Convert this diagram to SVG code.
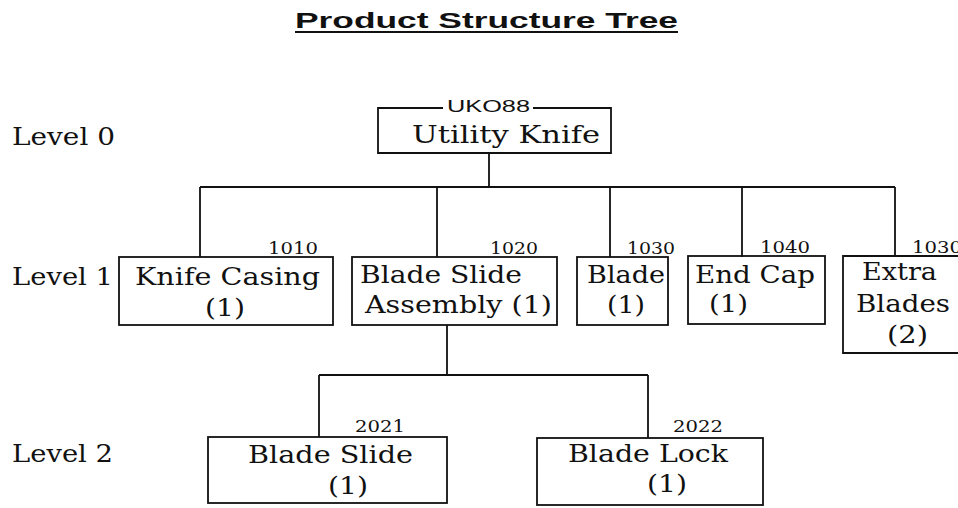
<svg xmlns="http://www.w3.org/2000/svg" width="958" height="508" viewBox="0 0 958 508">
<style>
.bx{fill:none;stroke:#111;stroke-width:1.8}
.ln{fill:none;stroke:#111;stroke-width:1.8}
.t{font-family:"DejaVu Serif","Liberation Serif",serif;font-size:25px;fill:#111}
.n{font-family:"DejaVu Serif","Liberation Serif",serif;font-size:17px;fill:#111}
.s{font-family:"Liberation Sans",Arial,sans-serif;fill:#111}
</style>
<rect width="958" height="508" fill="#fff"/>
<g id="title">
<text class="s" x="295" y="28" font-size="22" font-weight="bold" textLength="383" lengthAdjust="spacingAndGlyphs">Product Structure Tree</text>
<line x1="295" y1="32" x2="678" y2="32" stroke="#111" stroke-width="2"/>
</g>
<g id="levels">
<text class="t" x="12" y="145" textLength="103" lengthAdjust="spacingAndGlyphs">Level 0</text>
<text class="t" x="12" y="285" textLength="101" lengthAdjust="spacingAndGlyphs">Level 1</text>
<text class="t" x="12" y="462" textLength="101" lengthAdjust="spacingAndGlyphs">Level 2</text>
</g>
<g id="connectors">
<path class="ln" d="M489,153 V187 M200,187 H895 M200,187 V257 M437,187 V257 M610,187 V257 M742,187 V257 M895,187 V257"/>
<path class="ln" d="M447,325 V375 M319,375 H648 M319,375 V437 M648,375 V438"/>
</g>
<g id="node-uk088">
<path class="bx" d="M443,108 H378 V153 H611 V108 H533"/>
<text class="s" x="447" y="112" font-size="16" textLength="83" lengthAdjust="spacingAndGlyphs">UKO88</text>
<text class="t" x="412" y="143" textLength="188" lengthAdjust="spacingAndGlyphs">Utility Knife</text>
</g>
<g id="node-1010">
<rect class="bx" x="119" y="257" width="214" height="68"/>
<text class="n" x="268" y="254" textLength="50" lengthAdjust="spacingAndGlyphs">1010</text>
<text class="t" x="135" y="285" textLength="185" lengthAdjust="spacingAndGlyphs">Knife Casing</text>
<text class="t" x="205" y="316" textLength="40" lengthAdjust="spacingAndGlyphs">(1)</text>
</g>
<g id="node-1020">
<rect class="bx" x="352" y="257" width="205" height="68"/>
<text class="n" x="490" y="254" textLength="48" lengthAdjust="spacingAndGlyphs">1020</text>
<text class="t" x="360" y="283" textLength="162" lengthAdjust="spacingAndGlyphs">Blade Slide</text>
<text class="t" x="365" y="313" textLength="187" lengthAdjust="spacingAndGlyphs">Assembly (1)</text>
</g>
<g id="node-1030">
<rect class="bx" x="577" y="257" width="91" height="68"/>
<text class="n" x="627" y="254" textLength="48" lengthAdjust="spacingAndGlyphs">1030</text>
<text class="t" x="587" y="283" textLength="78" lengthAdjust="spacingAndGlyphs">Blade</text>
<text class="t" x="607" y="313" textLength="38" lengthAdjust="spacingAndGlyphs">(1)</text>
</g>
<g id="node-1040">
<rect class="bx" x="688" y="256" width="137" height="68"/>
<text class="n" x="760" y="253" textLength="50" lengthAdjust="spacingAndGlyphs">1040</text>
<text class="t" x="695" y="283" textLength="120" lengthAdjust="spacingAndGlyphs">End Cap</text>
<text class="t" x="709" y="312" textLength="39" lengthAdjust="spacingAndGlyphs">(1)</text>
</g>
<g id="node-1030-extra">
<path class="bx" d="M960,256 H843 V353 H960"/>
<text class="n" x="912" y="253" textLength="50" lengthAdjust="spacingAndGlyphs">1030</text>
<text class="t" x="862" y="280" textLength="75" lengthAdjust="spacingAndGlyphs">Extra</text>
<text class="t" x="856" y="312" textLength="94" lengthAdjust="spacingAndGlyphs">Blades</text>
<text class="t" x="887" y="343" textLength="41" lengthAdjust="spacingAndGlyphs">(2)</text>
</g>
<g id="node-2021">
<rect class="bx" x="208" y="437" width="239" height="66"/>
<text class="n" x="355" y="432" textLength="50" lengthAdjust="spacingAndGlyphs">2021</text>
<text class="t" x="248" y="463" textLength="165" lengthAdjust="spacingAndGlyphs">Blade Slide</text>
<text class="t" x="328" y="494" textLength="40" lengthAdjust="spacingAndGlyphs">(1)</text>
</g>
<g id="node-2022">
<rect class="bx" x="537" y="438" width="226" height="67"/>
<text class="n" x="673" y="432" textLength="50" lengthAdjust="spacingAndGlyphs">2022</text>
<text class="t" x="568" y="462" textLength="160" lengthAdjust="spacingAndGlyphs">Blade Lock</text>
<text class="t" x="647" y="492" textLength="40" lengthAdjust="spacingAndGlyphs">(1)</text>
</g>
</svg>
